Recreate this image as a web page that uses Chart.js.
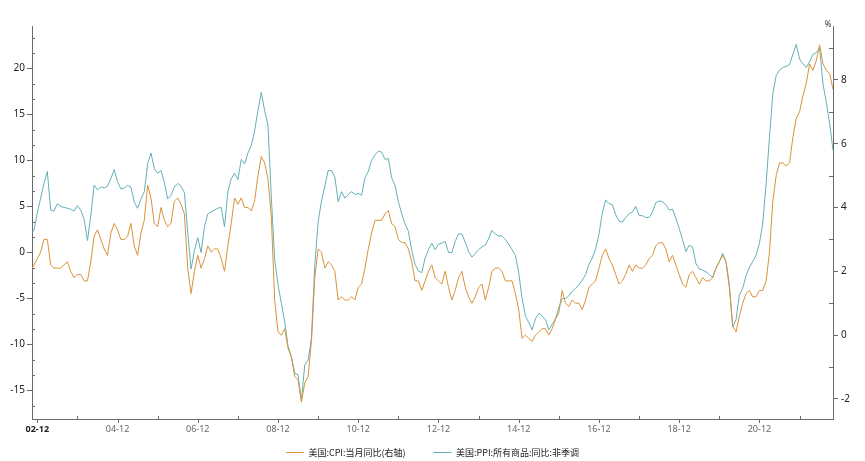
<!DOCTYPE html>
<html><head><meta charset="utf-8">
<script src="https://cdn.jsdelivr.net/npm/chart.js@4.4.1/dist/chart.umd.min.js"></script>
<style>html,body{margin:0;padding:0;background:#fff;}canvas{display:block;}</style>
</head><body>
<canvas id="c" width="865" height="461"></canvas>
<script>
// ---- categories: monthly, 2002-10 .. 2022-10 ----
const startYear = 2002, startMonth = 10, endYear = 2022, endMonth = 10;
const months = [];
for (let y = startYear, m = startMonth; y < endYear || (y === endYear && m <= endMonth);) {
  months.push(y + '-' + String(m).padStart(2, '0'));
  m++; if (m > 12) { m = 1; y++; }
}

// ---- series: 美国:CPI:当月同比 (right axis, %) ----
const cpiYoY = [
  2.0,2.2,2.4,
  2.6,3.0,3.0,2.2,2.1,2.1,2.1,2.2,2.3,2.0,1.8,1.9,
  1.9,1.7,1.7,2.3,3.1,3.3,3.0,2.7,2.5,3.2,3.5,3.3,
  3.0,3.0,3.1,3.5,2.8,2.5,3.2,3.6,4.7,4.3,3.5,3.4,
  4.0,3.6,3.4,3.5,4.2,4.3,4.1,3.8,2.1,1.3,2.0,2.5,
  2.1,2.4,2.8,2.6,2.7,2.7,2.4,2.0,2.8,3.5,4.3,4.1,
  4.3,4.0,4.0,3.9,4.2,5.0,5.6,5.4,4.9,3.7,1.1,0.1,
  0.0,0.2,-0.4,-0.7,-1.3,-1.4,-2.1,-1.5,-1.3,-0.2,1.8,2.7,
  2.6,2.1,2.3,2.2,2.0,1.1,1.2,1.1,1.1,1.2,1.1,1.5,
  1.6,2.1,2.7,3.2,3.6,3.6,3.6,3.8,3.9,3.5,3.4,3.0,
  2.9,2.9,2.7,2.3,1.7,1.7,1.4,1.7,2.0,2.2,1.8,1.7,
  1.6,2.0,1.5,1.1,1.4,1.8,2.0,1.5,1.2,1.0,1.2,1.5,
  1.6,1.1,1.5,2.0,2.1,2.1,2.0,1.7,1.7,1.7,1.3,0.8,
  -0.1,0.0,-0.1,-0.2,0.0,0.1,0.2,0.2,0.0,0.2,0.5,0.7,
  1.4,1.0,0.9,1.1,1.0,1.0,0.8,1.1,1.5,1.6,1.7,2.1,
  2.5,2.7,2.4,2.2,1.9,1.6,1.7,1.9,2.2,2.0,2.2,2.1,
  2.1,2.2,2.4,2.5,2.8,2.9,2.9,2.7,2.3,2.5,2.2,1.9,
  1.6,1.5,1.9,2.0,1.8,1.6,1.8,1.7,1.7,1.8,2.1,2.3,
  2.5,2.3,1.5,0.3,0.1,0.6,1.0,1.3,1.4,1.2,1.2,1.4,
  1.4,1.7,2.6,4.2,5.0,5.4,5.4,5.3,5.4,6.2,6.8,7.0,
  7.5,7.9,8.5,8.3,8.6,9.1,8.5,8.3,8.2,7.7
];

// ---- series: 美国:PPI:所有商品:同比:非季调 (left axis) ----
const ppiYoY = [
  2.0,2.4,4.3,
  5.9,7.5,8.8,4.6,4.5,5.3,5.0,4.9,4.8,4.7,4.5,5.1,
  4.6,3.6,1.3,4.0,7.3,6.8,7.1,7.0,7.2,8.0,9.0,7.7,
  6.9,7.0,7.3,7.1,5.5,4.8,5.8,6.6,9.6,10.8,9.1,8.6,
  8.9,7.6,5.8,6.2,7.1,7.5,7.2,6.5,2.2,-1.8,0.2,1.6,
  0.0,2.8,4.2,4.4,4.6,4.8,4.9,2.8,6.6,8.0,8.6,7.9,
  10.1,9.6,10.8,11.6,13.2,15.4,17.4,15.4,13.8,6.0,-0.8,-3.5,
  -5.5,-7.5,-10.2,-11.3,-13.1,-13.3,-16.0,-12.2,-11.7,-9.3,-1.4,3.3,
  5.6,7.2,8.9,8.9,8.2,5.5,6.6,5.9,6.3,6.6,6.3,6.4,
  6.2,8.1,8.8,10.0,10.6,11.0,10.9,10.1,10.2,8.1,7.3,5.5,
  4.2,3.1,2.3,0.2,-1.3,-2.0,-2.2,-0.6,0.3,1.0,0.3,0.9,
  1.0,1.2,0.0,0.0,1.2,2.0,2.0,1.1,0.1,-0.5,-0.1,0.3,
  0.6,0.8,1.5,2.4,2.0,1.8,1.8,1.4,0.9,0.3,-0.3,-2.2,
  -5.0,-6.9,-7.6,-8.4,-7.2,-6.6,-6.9,-7.3,-8.4,-7.8,-7.2,-6.0,
  -5.0,-5.0,-4.7,-4.2,-3.9,-3.5,-3.0,-2.4,-1.3,-0.6,0.4,2.0,
  4.3,5.7,5.3,5.2,4.1,3.4,3.3,3.8,4.2,4.4,5.0,4.0,
  4.0,3.8,3.8,4.4,5.4,5.6,5.5,5.2,4.6,4.7,3.7,2.6,
  1.4,0.1,0.8,0.6,-1.2,-1.8,-1.9,-2.1,-2.4,-2.7,-1.7,-1.0,
  -0.1,-1.0,-3.5,-8.1,-7.3,-4.6,-3.9,-2.5,-1.6,-1.0,-0.3,1.0,
  3.2,7.5,12.5,17.2,19.2,19.8,20.1,20.2,20.4,21.5,22.6,21.0,
  20.5,20.1,20.7,21.5,21.7,22.2,18.3,16.3,14.0,11.1
];

// ---- tick labels ----
const xMajorMonths = ['2002-12','2004-12','2006-12','2008-12','2010-12','2012-12','2014-12','2016-12','2018-12','2020-12'];
const xMajorLabels = ['02-12','04-12','06-12','08-12','10-12','12-12','14-12','16-12','18-12','20-12'];
const xMinorMonths = ['2003-12','2005-12','2007-12','2009-12','2011-12','2013-12','2015-12','2017-12','2019-12','2021-12'];
const leftTicks = [-15,-10,-5,0,5,10,15,20];
const leftMinorTicks = [-50/3,-40/3,-35/3,-25/3,-20/3,-10/3,-5/3,5/3,10/3,20/3,25/3,35/3,40/3,50/3,55/3,65/3,70/3];
const rightTicks = [-2,0,2,4,6,8];
const rightMinorTicks = [-1,1,3,5,7,9];
const seriesNames = ['美国:CPI:当月同比(右轴)', '美国:PPI:所有商品:同比:非季调'];

const axisColor = '#6a6a6a';
const xMajorIdx = xMajorMonths.map(m => months.indexOf(m));
const xMinorIdx = xMinorMonths.map(m => months.indexOf(m));

const extras = {
  id: 'extras',
  afterDraw(chart) {
    const ctx = chart.ctx, a = chart.chartArea;
    const yl = chart.scales.y, yr = chart.scales.y1, xs = chart.scales.x;
    ctx.save();
    ctx.strokeStyle = axisColor; ctx.lineWidth = 1;
    ctx.beginPath();
    leftMinorTicks.forEach(v => { const p = Math.round(yl.getPixelForValue(v)) + 0.5; ctx.moveTo(a.left, p); ctx.lineTo(a.left + 3, p); });
    rightMinorTicks.forEach(v => { const p = Math.round(yr.getPixelForValue(v)) + 0.5; ctx.moveTo(a.right - 4, p); ctx.lineTo(a.right, p); });
    xMinorIdx.forEach(v => { const p = Math.round(xs.getPixelForValue(v)) + 0.5; ctx.moveTo(p, a.bottom); ctx.lineTo(p, a.bottom - 3); });
    xMajorIdx.forEach(v => { const p = Math.round(xs.getPixelForValue(v)) + 0.5; ctx.moveTo(p, a.bottom); ctx.lineTo(p, a.bottom + 4); });
    ctx.stroke();
    ctx.textAlign = 'center'; ctx.textBaseline = 'middle';
    xMajorIdx.forEach((v, k) => {
      const p = xs.getPixelForValue(v);
      ctx.fillStyle = k === 0 ? '#222' : '#666';
      ctx.font = (k === 0 ? 'bold ' : '') + '9px "Noto Sans"';
      ctx.fillText(xMajorLabels[k], p, a.bottom + 10);
    });
    ctx.fillStyle = '#333'; ctx.font = '8px "Noto Sans"';
    ctx.fillText('%', a.right - 5, a.top - 1);
    ctx.restore();
  }
};

new Chart(document.getElementById('c'), {
  type: 'line',
  data: {
    datasets: [
      { label: seriesNames[0], data: months.map((m, i) => ({ x: i, y: cpiYoY[i] })), yAxisID: 'y1',
        borderColor: '#da9237', backgroundColor: '#da9237', borderWidth: 1, pointRadius: 0, tension: 0 },
      { label: seriesNames[1], data: months.map((m, i) => ({ x: i, y: ppiYoY[i] })), yAxisID: 'y',
        borderColor: '#62b0b8', backgroundColor: '#62b0b8', borderWidth: 1, pointRadius: 0, tension: 0 }
    ]
  },
  options: {
    responsive: false, animation: false, devicePixelRatio: 1,
    layout: { padding: { top: 26, left: 0, right: 0, bottom: -6 } },
    plugins: {
      tooltip: { enabled: false },
      legend: {
        position: 'bottom',
        labels: { usePointStyle: true, pointStyle: 'line', pointStyleWidth: 18, padding: 28,
                  color: '#222', font: { size: 9, family: '"Noto Sans CJK SC"' } }
      }
    },
    scales: {
      x: {
        type: 'linear', min: 0.415, max: months.length - 1,
        afterFit: s => { s.height = 1; },
        grid: { display: false, drawOnChartArea: false, drawTicks: false },
        border: { display: true, color: axisColor },
        ticks: { display: false }
      },
      y: {
        position: 'left', min: -18.08, max: 24.59,
        afterBuildTicks: s => { s.ticks = leftTicks.map(v => ({ value: v })); },
        afterFit: s => { s.width = 32; },
        grid: { drawOnChartArea: false, tickLength: 5, color: axisColor },
        border: { color: axisColor },
        ticks: { padding: 2, color: '#222', font: { size: 10, family: '"Noto Sans"' }, callback: v => String(v) }
      },
      y1: {
        position: 'right', min: -2.63, max: 9.69,
        afterBuildTicks: s => { s.ticks = rightTicks.map(v => ({ value: v })); },
        afterFit: s => { s.width = 32; },
        grid: { drawOnChartArea: false, tickLength: 5, color: axisColor },
        border: { color: axisColor },
        ticks: { padding: 3, color: '#222', font: { size: 10, family: '"Noto Sans"' }, callback: v => String(v) }
      }
    }
  },
  plugins: [extras]
});
</script>
</body></html>
